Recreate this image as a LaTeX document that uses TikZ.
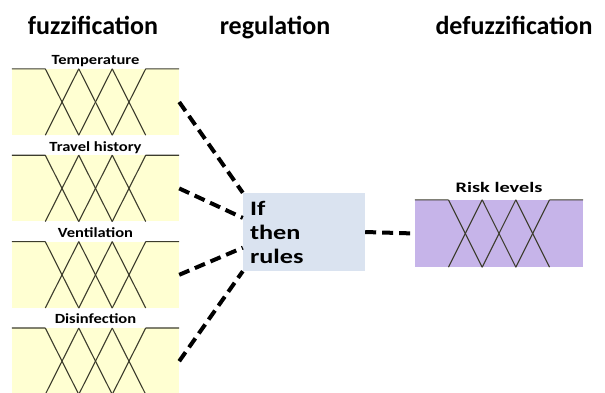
\documentclass[tikz,border=0pt]{standalone}
\usepackage{fontspec}
\setmainfont{Carlito}
\usetikzlibrary{positioning, calc}

\definecolor{fuzzyellow}{RGB}{255,255,210}
\definecolor{riskpurple}{RGB}{198,180,233}
\definecolor{rulesblue}{RGB}{218,227,240}
\definecolor{mfgray}{RGB}{60,60,45}

% membership functions drawn inside a panel node
\newcommand{\mfshape}[1]{%
  \draw[mf] (#1.north west) -- ($(#1.north west)!0.2!(#1.north east)$);
  \draw[mf] ($(#1.north west)!0.8!(#1.north east)$) -- (#1.north east);
  \foreach \a/\b in {0.2/0.4,0.4/0.6,0.6/0.8}{
    \draw[mf] ($(#1.north west)!\a!(#1.north east)$) -- ($(#1.south west)!\b!(#1.south east)$);
    \draw[mf] ($(#1.south west)!\a!(#1.south east)$) -- ($(#1.north west)!\b!(#1.north east)$);
  }%
}

\begin{document}
\begin{tikzpicture}[x=1pt, y=-1pt, node distance=20pt,
    panel/.style={fill=fuzzyellow, minimum width=167pt, minimum height=66pt, inner sep=0pt},
    caption/.style={inner sep=0pt, text depth=4pt, font=\fontsize{14}{16}\selectfont\bfseries\addfontfeature{FakeStretch=1.18}},
    title/.style={anchor=base, font=\fontsize{26}{30}\selectfont\bfseries},
    rulebox/.style={fill=rulesblue, minimum width=122pt, minimum height=78pt, text width=108pt, inner xsep=7pt, align=left, font=\fontsize{20.5}{24}\selectfont\bfseries\addfontfeature{FakeStretch=1.28}},
    mf/.style={draw=mfgray, line width=1.1pt},
    link/.style={draw=black, line width=4pt, dash pattern=on 11pt off 6pt}]

    \useasboundingbox (0,0) rectangle (605,392);

    % Column titles
    \node[title] (fuzz) at (93,34) {fuzzification};
    \node[title] (reg) at (275,34) {regulation};
    \node[title] (defuzz) at (514,34) {defuzzification};

    % Input panels
    \node[panel] (temp) at (95.5,102) {};
    \node[panel, below=of temp] (travel) {};
    \node[panel, below=of travel] (vent) {};
    \node[panel, below=of vent] (disinf) {};
    \node[caption, above=0pt of temp] (tempcap) {Temperature};
    \node[caption, above=0pt of travel] (travelcap) {Travel history};
    \node[caption, above=0pt of vent] (ventcap) {Ventilation};
    \node[caption, above=0pt of disinf] (disinfcap) {Disinfection};

    % Rule block and output panel
    \node[rulebox] (rules) at (304,232) {If\\then\\rules};
    \node[panel, fill=riskpurple, minimum width=168pt, minimum height=67pt] (risk) at (499,233.5) {};
    \node[caption, above=3pt of risk, font=\fontsize{14.5}{16}\selectfont\bfseries\addfontfeature{FakeStretch=1.4}] (riskcap) {Risk levels};

    \foreach \p in {temp, travel, vent, disinf, risk}{\mfshape{\p}}

    % Ends of the links on the rule block
    \coordinate (in2) at ($(rules.north west)!0.32!(rules.south west)$);
    \coordinate (in3) at ($(rules.north west)!0.70!(rules.south west)$);

    % Links
    \path[link]
    (temp.east) edge (rules.north west)
    (travel.east) edge (in2)
    (vent.east) edge (in3)
    (disinf.east) edge (rules.south west)
    (rules.east) edge[shorten >=3pt] (risk.west);

\end{tikzpicture}
\end{document}
